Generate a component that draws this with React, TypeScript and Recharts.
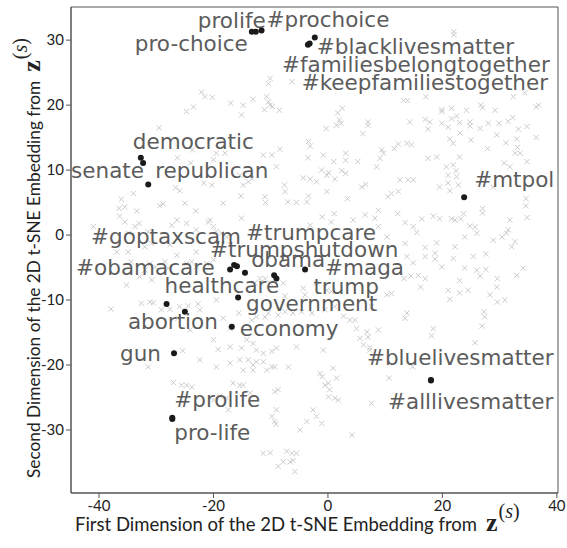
import React from 'react'
import { ReferenceArea, Scatter, ScatterChart, XAxis, YAxis } from 'recharts'

// gray background words (x marks)
const background: [number, number][] = [
  [-22.1, 22.0], [-21.5, 21.3], [-20.2, 21.2], [-17.0, 20.3], [-23.5, 19.7], [-24.7, 19.0], [-29.5, 16.5], [-26.3, 11.9],
  [-24.0, 11.1], [-23.7, 13.1], [-19.5, 12.6], [-18.0, 12.6], [-20.0, 11.6], [-21.7, 8.0], [-20.3, 7.7], [-26.6, 7.3],
  [-25.9, 6.8], [-34.0, 6.4], [-36.1, 5.5], [-36.5, 4.1], [-35.5, 4.3], [-33.4, 3.7], [-36.4, 2.9], [-29.4, 4.5],
  [-28.8, 4.8], [-25.0, 4.9], [-23.1, 3.7], [-18.3, 4.9], [-33.0, 1.8], [-33.7, 1.3], [-41.0, 1.3], [-27.3, 1.5],
  [-20.6, 2.3], [-20.0, 1.3], [-19.5, 0.5], [-34.9, 0.3], [-30.8, -1.3], [-32.0, -1.8], [-27.6, -1.5], [-17.7, -0.3],
  [-17.1, -1.5], [-35.5, 2.0], [-31.4, 0.5], [-26.4, 2.3], [-24.7, 1.8], [-23.0, 0.8], [-20.9, 2.0], [-18.6, 0.3],
  [-10.1, 24.1], [-10.4, 23.3], [-6.3, 23.6], [-14.8, 20.0], [-13.1, 20.9], [-15.1, 18.5], [-10.7, 21.3], [-10.4, 20.5],
  [-10.1, 20.0], [-11.1, 19.3], [-9.7, 19.8], [-8.5, 19.2], [1.7, 18.8], [2.5, 19.5], [2.0, 17.7], [2.3, 17.2],
  [1.5, 16.9], [-0.3, 16.4], [7.0, 17.4], [7.0, 16.9], [6.1, 15.6], [-3.4, 14.4], [-3.1, 13.7], [-3.5, 11.9],
  [-0.8, 12.3], [1.0, 11.3], [3.1, 12.6], [3.1, 11.5], [5.2, 11.3], [9.4, 13.1], [9.7, 12.6], [9.1, 11.8],
  [8.5, 10.5], [11.6, 13.3], [12.3, 14.0], [-11.3, 12.3], [-9.8, 12.3], [-8.4, 13.2], [-9.0, 10.5], [-15.4, 9.2],
  [-13.3, 8.7], [-14.8, 7.7], [-13.9, 8.2], [-4.3, 8.8], [-3.1, 8.6], [-2.0, 8.2], [-1.1, 10.0], [-0.2, 9.2],
  [0.1, 9.6], [1.2, 8.6], [2.4, 9.9], [3.1, 9.5], [-7.6, 7.7], [-7.5, 6.7], [-15.2, 6.0], [-11.0, 5.9],
  [-10.9, 5.0], [-7.0, 5.1], [-5.5, 5.0], [-3.7, 5.1], [-3.4, 6.0], [-0.2, 6.7], [3.4, 5.6], [5.9, 7.4],
  [6.6, 7.8], [10.5, 5.9], [11.1, 6.4], [12.3, 6.7], [12.2, 3.3], [8.8, 3.8], [6.5, 3.1], [8.2, 2.6],
  [-1.0, 2.8], [0.6, 2.0], [1.1, 3.3], [-15.1, 2.6], [-3.1, 1.5], [4.4, 2.3], [8.8, 1.3], [10.3, -0.3],
  [22.0, 31.3], [22.0, 30.8],
  [17.1, 21.3], [13.2, 20.7], [13.9, 20.7], [34.4, 21.9], [32.4, 21.3], [36.4, 19.7], [36.8, 20.0], [19.9, 19.3],
  [19.9, 19.0], [21.6, 19.5], [24.2, 19.2], [26.7, 20.0], [27.0, 19.6], [29.2, 19.2], [14.3, 17.4], [17.0, 17.8],
  [17.8, 17.4], [17.5, 16.3], [19.9, 17.2], [21.0, 16.6], [21.6, 17.9], [22.5, 18.3], [23.0, 17.3], [24.8, 17.4],
  [24.8, 16.8], [26.6, 16.4], [28.0, 17.2], [29.9, 17.2], [31.5, 17.5], [32.3, 18.1], [33.3, 16.3], [34.8, 16.7],
  [23.1, 15.7], [21.3, 14.8], [21.9, 14.1], [25.0, 14.6], [27.9, 13.3], [29.5, 15.4], [31.1, 14.2], [33.0, 14.8],
  [33.1, 13.5], [32.7, 12.6], [33.6, 12.6], [36.4, 15.0], [13.8, 14.1], [14.6, 13.9], [17.5, 11.8], [19.0, 12.0],
  [23.0, 12.0], [20.7, 10.5], [21.9, 10.8], [22.4, 9.9], [21.0, 9.2], [22.5, 9.0], [21.0, 8.0], [22.8, 7.7],
  [21.3, 6.8], [19.5, 7.4], [12.6, 8.5], [14.0, 8.5], [14.9, 8.5], [30.8, 11.1], [31.8, 10.5], [34.8, 11.3],
  [34.6, 5.6], [34.6, 4.5], [34.8, 2.7], [27.0, 4.1], [27.0, 3.4], [28.9, 7.4], [16.4, 2.5], [18.4, 2.9],
  [19.5, 2.5], [21.6, 2.5], [22.2, 2.3], [23.2, 2.5], [23.7, 3.3], [24.8, 1.4], [25.7, 1.2], [26.0, 0.3],
  [23.9, -0.3], [13.5, 1.9], [14.9, 1.3], [15.5, 0.4], [31.8, 2.3], [31.5, 0.8], [31.2, 0.3], [30.4, -0.3],
  [28.9, -0.8], [32.7, -1.0], [13.5, -1.3], [17.0, -1.9], [19.0, -1.2], [22.2, -1.8], [32.1, -1.8],
  [13.8, -3.3], [14.9, -4.3], [17.0, -3.3], [18.7, -2.8], [18.7, -3.7], [19.9, -4.9], [21.9, -3.6], [23.9, -5.1],
  [25.4, -3.3], [27.6, -2.9], [26.0, -5.4], [27.6, -5.3], [26.6, -6.3], [29.6, -6.7], [34.1, -5.1], [33.0, -6.2],
  [13.3, -6.7], [14.5, -6.3], [15.8, -6.2], [17.0, -6.7], [16.2, -8.0], [21.0, -8.5], [21.3, -9.9], [23.0, -7.0],
  [23.0, -8.9], [24.5, -8.5], [28.3, -9.2], [29.5, -8.0], [29.6, -10.3], [30.9, -10.0], [27.3, -11.8], [27.4, -12.6],
  [26.9, -14.0], [13.8, -12.0], [13.5, -12.8], [18.4, -14.4], [18.1, -15.5], [25.7, -16.6], [14.8, -20.3],
  [-11.9, -6.7], [-12.8, -7.4], [-11.0, -6.7], [-10.1, -7.4], [-7.8, -7.4], [-7.5, -9.4], [-4.3, -8.2], [-4.0, -9.2],
  [-2.0, -7.4], [-0.2, -8.5], [0.6, -8.7], [10.3, -9.2], [11.1, -9.0], [7.6, -11.0], [-15.6, -12.0], [-12.5, -12.6],
  [-13.3, -13.1], [-11.0, -12.6], [-10.4, -12.0], [-8.7, -12.3], [-7.5, -11.8], [-6.1, -12.0], [-4.6, -11.8], [-2.8, -12.0],
  [-0.5, -11.5], [1.2, -11.0], [2.7, -12.5], [3.8, -13.1], [4.7, -13.1], [5.0, -14.4], [6.8, -14.9], [8.8, -14.6],
  [5.6, -15.9], [7.0, -15.7], [6.2, -16.9], [7.3, -17.3], [7.3, -17.7], [-15.1, -17.4], [-14.2, -16.1], [-13.1, -16.7],
  [-12.5, -17.7], [-11.3, -18.2], [-9.8, -17.9], [-9.0, -17.4], [-5.5, -17.2], [-0.8, -17.7], [-15.4, -19.2], [-13.9, -19.2],
  [-13.1, -20.0], [-12.5, -19.5], [-11.3, -19.5], [-9.8, -20.3], [-6.9, -20.3], [-14.8, -20.8], [-13.1, -20.8], [-10.7, -20.8],
  [-9.3, -20.3], [-1.4, -21.3], [-1.0, -21.8], [0.9, -20.5], [1.5, -22.0], [-0.5, -23.1], [0.1, -22.8], [0.3, -23.8],
  [0.1, -24.9], [1.2, -25.1], [1.8, -25.4], [-15.4, -23.1], [-14.8, -23.1], [-9.3, -24.1], [-8.7, -23.8], [-9.0, -26.9],
  [-9.8, -27.9], [-9.3, -28.7], [-9.1, -29.1], [-2.6, -26.9], [-2.0, -27.9], [-3.7, -28.7], [-1.1, -29.0], [-4.9, -30.0],
  [4.2, -30.8], [7.6, -25.9], [10.7, -22.0], [-11.3, -33.6], [-10.1, -33.5], [-7.2, -33.3], [-6.3, -33.6], [-5.5, -33.6],
  [-8.7, -35.6], [-7.8, -34.9], [-6.6, -34.9], [-6.1, -34.7], [-5.8, -36.4], [-13.6, -24.3],
  [-36.9, -2.6], [-34.9, -2.6], [-34.4, -4.1], [-35.2, -7.7], [-30.8, -6.9], [-32.9, -6.4], [-32.0, -5.4], [-30.2, -4.9],
  [-31.1, -4.4], [-28.5, -4.1], [-27.9, -5.1], [-26.4, -3.1], [-24.7, -4.4], [-23.8, -4.1], [-23.0, -2.6], [-21.2, -4.4],
  [-20.0, -3.8], [-23.0, -4.9], [-37.9, -11.4], [-32.6, -10.5], [-31.1, -10.3], [-30.5, -10.4], [-29.1, -11.5], [-27.6, -11.4],
  [-25.9, -11.0], [-24.4, -10.9], [-22.7, -10.6], [-22.4, -11.5], [-19.5, -10.0], [-18.3, -12.8], [-17.1, -14.4], [-24.1, -14.6],
  [-26.2, -12.8], [-20.0, -16.1], [-19.2, -17.6], [-17.1, -17.2], [-22.4, -19.2], [-19.5, -20.3], [-17.1, -19.7], [-25.4, -17.8],
  [-31.4, -20.3], [-27.0, -22.7], [-25.6, -23.1], [-24.7, -23.1], [-23.8, -23.4], [-18.9, -24.8], [-17.7, -25.1], [-16.6, -22.8],
  [-17.4, -26.9], [-20.0, -25.4],
]

// highlighted words
const words = [
  'pro-choice', 'prolife', '#prochoice',
  '#familiesbelongtogether', '#keepfamiliestogether', '#blacklivesmatter',
  'democratic', 'senate', 'republican', '#mtpol',
  '#obamacare', '#goptaxscam', '#trumpcare', '#trumpshutdown', 'obama', 'trump', '#maga',
  'government', 'healthcare', 'abortion', 'economy', 'gun',
  '#prolife', 'pro-life', '#bluelivesmatter', '#alllivesmatter',
]
const wordX = [
  -13.3, -12.6, -11.6,
  -3.5, -3.2, -2.3,
  -32.7, -32.3, -31.4, 23.8,
  -17.1, -16.4, -15.9, -14.5, -9.4, -9.0, -4.0,
  -15.7, -28.2, -25.0, -16.8, -26.9,
  -27.2, -27.2, 18.0, 18.0,
]
const wordY = [
  31.3, 31.3, 31.5,
  29.3, 29.5, 30.4,
  11.9, 11.1, 7.8, 5.8,
  -5.3, -4.6, -4.8, -5.8, -6.2, -6.7, -5.3,
  -9.6, -10.6, -11.8, -14.1, -18.2,
  -28.1, -28.3, -22.3, -22.4,
]

// where each text sits relative to its dot (px: left edge, baseline)
const labelNudge: Record<string, [number, number]> = {
  'pro-choice': [-117, 19], prolife: [-58, -4], '#prochoice': [5, -3],
  '#familiesbelongtogether': [-26, 27], '#keepfamiliestogether': [-8, 47], '#blacklivesmatter': [2, 16],
  democratic: [-8, -9], senate: [-72, 15], republican: [7, -6], '#mtpol': [10, -10],
  '#obamacare': [-154, 6], '#goptaxscam': [-143, -21], '#trumpcare': [9, -26], '#trumpshutdown': [-35, -16],
  obama: [-23, -8], trump: [37, 15], '#maga': [20, 6],
  government: [8, 14], healthcare: [-2, -11], abortion: [-57, 17], economy: [8, 9], gun: [-54, 8],
  '#prolife': [2, -11], 'pro-life': [2, 21], '#bluelivesmatter': [-64, -15], '#alllivesmatter': [-43, 28],
}

const X_DOMAIN: [number, number] = [-44.9, 40.2]
const Y_DOMAIN: [number, number] = [-39.7, 35.1]
const xTicks = [-40, -20, 0, 20, 40]
const yTicks = [-30, -20, -10, 0, 10, 20, 30]

const bgData = background.map(([x, y]) => ({ x, y }))
const wordData = words.map((w, i) => ({ x: wordX[i], y: wordY[i], label: w }))

const Cross = (props: any) => {
  const { cx, cy } = props
  if (cx == null || cy == null) return null
  const s = 2.6
  return (
    <g stroke="#cbcbcb" strokeWidth={1}>
      <line x1={cx - s} y1={cy - s} x2={cx + s} y2={cy + s} />
      <line x1={cx - s} y1={cy + s} x2={cx + s} y2={cy - s} />
    </g>
  )
}

const WordDot = (props: any) => {
  const { cx, cy, payload } = props
  if (cx == null || cy == null) return null
  const [dx, dy] = labelNudge[payload.label] ?? [6, 0]
  return (
    <g>
      <circle cx={cx} cy={cy} r={3} fill="#1a1a1a" />
      <text x={cx + dx} y={cy + dy} fontFamily="DejaVu Sans" fontSize={21.5} fill="#5c5c5c">
        {payload.label}
      </text>
    </g>
  )
}

const tickStyle = { fontFamily: 'Lato', fontSize: 15, fill: '#222' }

// bold z with a raised (s)
const ZSup = () => (
  <>
    <tspan dx={9} fontFamily="Liberation Serif" fontWeight="bold" fontSize={26}>z</tspan>
    <tspan dx={1} dy={-13} fontFamily="Liberation Serif" fontSize={20}>(</tspan>
    <tspan fontFamily="Liberation Serif" fontStyle="italic" fontSize={20}>s</tspan>
    <tspan fontFamily="Liberation Serif" fontSize={20}>)</tspan>
  </>
)

export default function App() {
  return (
    <div style={{ position: 'absolute', left: 0, top: 0, width: 567, height: 548, background: '#fff' }}>
      <ScatterChart width={567} height={548} margin={{ top: 7, right: 9, bottom: 0, left: 0 }}>
        <XAxis
          type="number"
          dataKey="x"
          domain={X_DOMAIN}
          ticks={xTicks}
          allowDataOverflow
          height={55}
          tickSize={5}
          tick={tickStyle}
          stroke="#555"
        />
        <YAxis
          type="number"
          dataKey="y"
          domain={Y_DOMAIN}
          ticks={yTicks}
          allowDataOverflow
          width={71}
          tickSize={5}
          tick={tickStyle}
          stroke="#555"
        />
        <ReferenceArea x1={X_DOMAIN[0]} x2={X_DOMAIN[1]} y1={Y_DOMAIN[0]} y2={Y_DOMAIN[1]} fill="none" stroke="#555" strokeOpacity={1} />
        <Scatter data={bgData} shape={Cross} isAnimationActive={false} />
        <Scatter data={wordData} shape={WordDot} isAnimationActive={false} />
      </ScatterChart>
      <svg width={567} height={548} style={{ position: 'absolute', left: 0, top: 0, pointerEvents: 'none' }}>
        <text x={75} y={531} fontFamily="Lato" fontSize={18.5} fill="#222">
          First Dimension of the 2D t-SNE Embedding from
          <ZSup />
        </text>
        <text transform="translate(40 478) rotate(-90)" fontFamily="Lato" fontSize={17.3} fill="#222">
          Second Dimension of the 2D t-SNE Embedding from
          <ZSup />
        </text>
      </svg>
    </div>
  )
}
